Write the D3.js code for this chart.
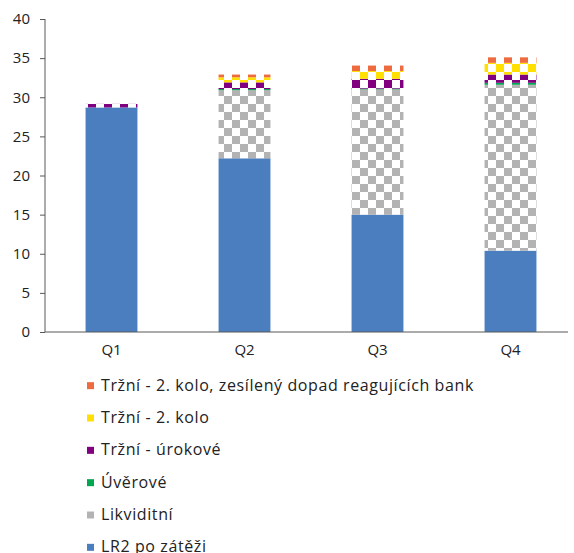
<!DOCTYPE html>
<html><head><meta charset="utf-8">
<script src="https://cdn.jsdelivr.net/npm/d3@7"></script>
<style>body{margin:0;background:#fff;} svg{display:block;font-family:"Open Sans","Noto Sans",sans-serif;}</style>
</head><body>
<svg id="c" width="574" height="553"></svg>
<script>
const categories = ["Q1","Q2","Q3","Q4"];
const seriesNames = ["LR2 po zátěži","Likviditní","Úvěrové","Tržní - úrokové","Tržní - 2. kolo","Tržní - 2. kolo, zesílený dopad reagujících bank"];
const lr2 = [28.7, 22.2, 15.0, 10.4];
const likviditni = [0, 8.7, 16.0, 21.2];
const uverove = [0, 0.15, 0.1, 0.25];
const trzniUrokove = [0.45, 0.85, 1.25, 1.05];
const trzni2kolo = [0, 0.65, 1.0, 1.5];
const trzniZesileny = [0, 0.35, 0.7, 0.7];
const yTicks = [0,5,10,15,20,25,30,35,40];
const colors = ["#4a7ebf","#b3b3b3","#00a650","#800080","#ffe000","#ee6a3f"];

const seriesValues = [lr2, likviditni, uverove, trzniUrokove, trzni2kolo, trzniZesileny];
const rows = categories.map((c,i)=>{const r={cat:c}; seriesNames.forEach((s,j)=>r[s]=seriesValues[j][i]); return r;});
const stack = d3.stack().keys(seriesNames)(rows);

const svg = d3.select("#c");
const defs = svg.append("defs");
colors.forEach((col,i)=>{
  if(i===0) return;
  const p = defs.append("pattern").attr("id","p"+i).attr("patternUnits","userSpaceOnUse")
    .attr("width",16).attr("height",16);
  p.append("rect").attr("width",16).attr("height",16).attr("fill","#fff");
  p.append("rect").attr("width",8).attr("height",8).attr("fill",col);
  p.append("rect").attr("x",8).attr("y",8).attr("width",8).attr("height",8).attr("fill",col);
});
const fillOf = i => i===0 ? colors[0] : `url(#p${i})`;

const x = d3.scaleBand().domain(categories).range([45,577]).paddingInner(0.61).paddingOuter(0.305);
const y = d3.scaleLinear().domain([0,40]).range([332,19]);

// bars
svg.append("g").selectAll("g").data(stack).join("g")
  .attr("fill",(d,i)=>fillOf(i))
  .selectAll("rect").data(d=>d).join("rect")
  .attr("x",d=>x(d.data.cat)).attr("width",x.bandwidth())
  .attr("y",d=>y(d[1])).attr("height",d=>Math.max(0,y(d[0])-y(d[1])));

// y axis
const ya = svg.append("g").attr("transform","translate(45,0)")
  .call(d3.axisLeft(y).tickValues(yTicks).tickSize(5).tickPadding(10).tickFormat(d3.format("d")));
ya.select(".domain").attr("stroke","#595959").attr("d","M0,19V332");
ya.selectAll(".tick line").attr("stroke","#595959");
ya.selectAll("text").attr("font-size",15).attr("fill","#222").attr("font-family","Open Sans, sans-serif");

// x axis
const xa = svg.append("g").attr("transform","translate(0,332)")
  .call(d3.axisBottom(x).tickSize(0).tickPadding(12));
xa.select(".domain").attr("stroke","#595959").attr("d","M45,0H568");
xa.selectAll("text").attr("font-size",15).attr("fill","#222").attr("font-family","Open Sans, sans-serif");

// legend
const legY = d3.scaleBand().domain(seriesNames.slice().reverse()).range([369,563]);
const lg = svg.append("g").selectAll("g").data(seriesNames.slice().reverse()).join("g")
  .attr("transform",d=>`translate(87,${legY(d)+legY.bandwidth()/2})`);
lg.append("rect").attr("x",0).attr("y",-3).attr("width",7).attr("height",7)
  .attr("fill",d=>colors[seriesNames.indexOf(d)]);
lg.append("text").attr("x",14).attr("y",0).attr("dy","0.35em").attr("font-size",16)
  .attr("letter-spacing","0.6px").attr("fill","#222")
  .text(d=>d);
</script>
</body></html>
